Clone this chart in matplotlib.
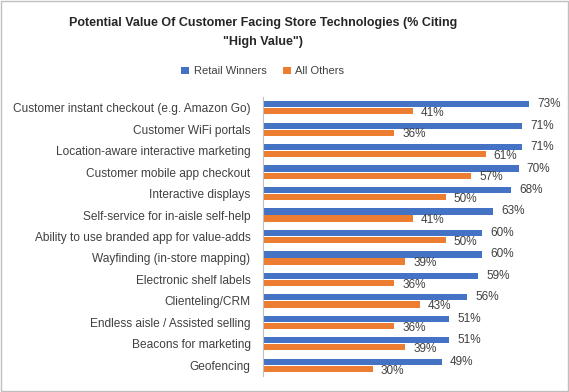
import matplotlib
matplotlib.use("Agg")
import matplotlib.pyplot as plt
import numpy as np

BLUE = "#4472C4"
ORANGE = "#ED7D31"
TEXT = "#404040"
FONT = ["Liberation Sans", "DejaVu Sans"]

categories = [
    "Customer instant checkout (e.g. Amazon Go)",
    "Customer WiFi portals",
    "Location-aware interactive marketing",
    "Customer mobile app checkout",
    "Interactive displays",
    "Self-service for in-aisle self-help",
    "Ability to use branded app for value-adds",
    "Wayfinding (in-store mapping)",
    "Electronic shelf labels",
    "Clienteling/CRM",
    "Endless aisle / Assisted selling",
    "Beacons for marketing",
    "Geofencing",
]
retail_winners = [73, 71, 71, 70, 68, 63, 60, 60, 59, 56, 51, 51, 49]
all_others = [41, 36, 61, 57, 50, 41, 50, 39, 36, 43, 36, 39, 30]

plt.rcParams["font.family"] = FONT

fig = plt.figure(figsize=(5.69, 3.92), dpi=100, facecolor="white")
# 外枠
fig.patches.append(plt.Rectangle((0.002, 0.002), 0.996, 0.996, transform=fig.transFigure,
                                 fill=False, edgecolor="#BFBFBF", linewidth=1.0))

ax = fig.add_axes([263 / 569, 16 / 392, 292 / 569, 279 / 392])
y = np.arange(len(categories))
off, h = 0.165, 0.29
ax.barh(y - off, retail_winners, height=h, color=BLUE, label="Retail Winners")
ax.barh(y + off, all_others, height=h, color=ORANGE, label="All Others")

for yi, v in zip(y, retail_winners):
    ax.text(v + 2.2, yi - off, f"{v}%", va="center", ha="left", fontsize=8.5, color=TEXT)
for yi, v in zip(y, all_others):
    ax.text(v + 2.2, yi + off + 0.08, f"{v}%", va="center", ha="left", fontsize=8.5, color=TEXT)

ax.set_xlim(0, 80)
ax.set_ylim(len(categories) - 0.5, -0.5)
ax.set_yticks(y)
ax.set_yticklabels(categories, fontsize=8.6, color=TEXT)
ax.tick_params(axis="y", length=0, pad=9)
ax.set_xticks([])
for side in ("top", "right", "bottom"):
    ax.spines[side].set_visible(False)
ax.spines["left"].set_color("#BFBFBF")

fig.text(0.462, 0.917, 'Potential Value Of Customer Facing Store Technologies (% Citing\n"High Value")',
         ha="center", va="center", fontsize=9, fontweight="bold", color="#262626",
         linespacing=1.75)

fig.legend(loc="center", bbox_to_anchor=(0.462, 0.818), ncol=2, frameon=False,
           fontsize=8, handlelength=0.7, handleheight=0.7, columnspacing=1.5,
           handletextpad=0.4, labelcolor=TEXT)

fig.savefig("out.png", dpi=100, facecolor="white")
